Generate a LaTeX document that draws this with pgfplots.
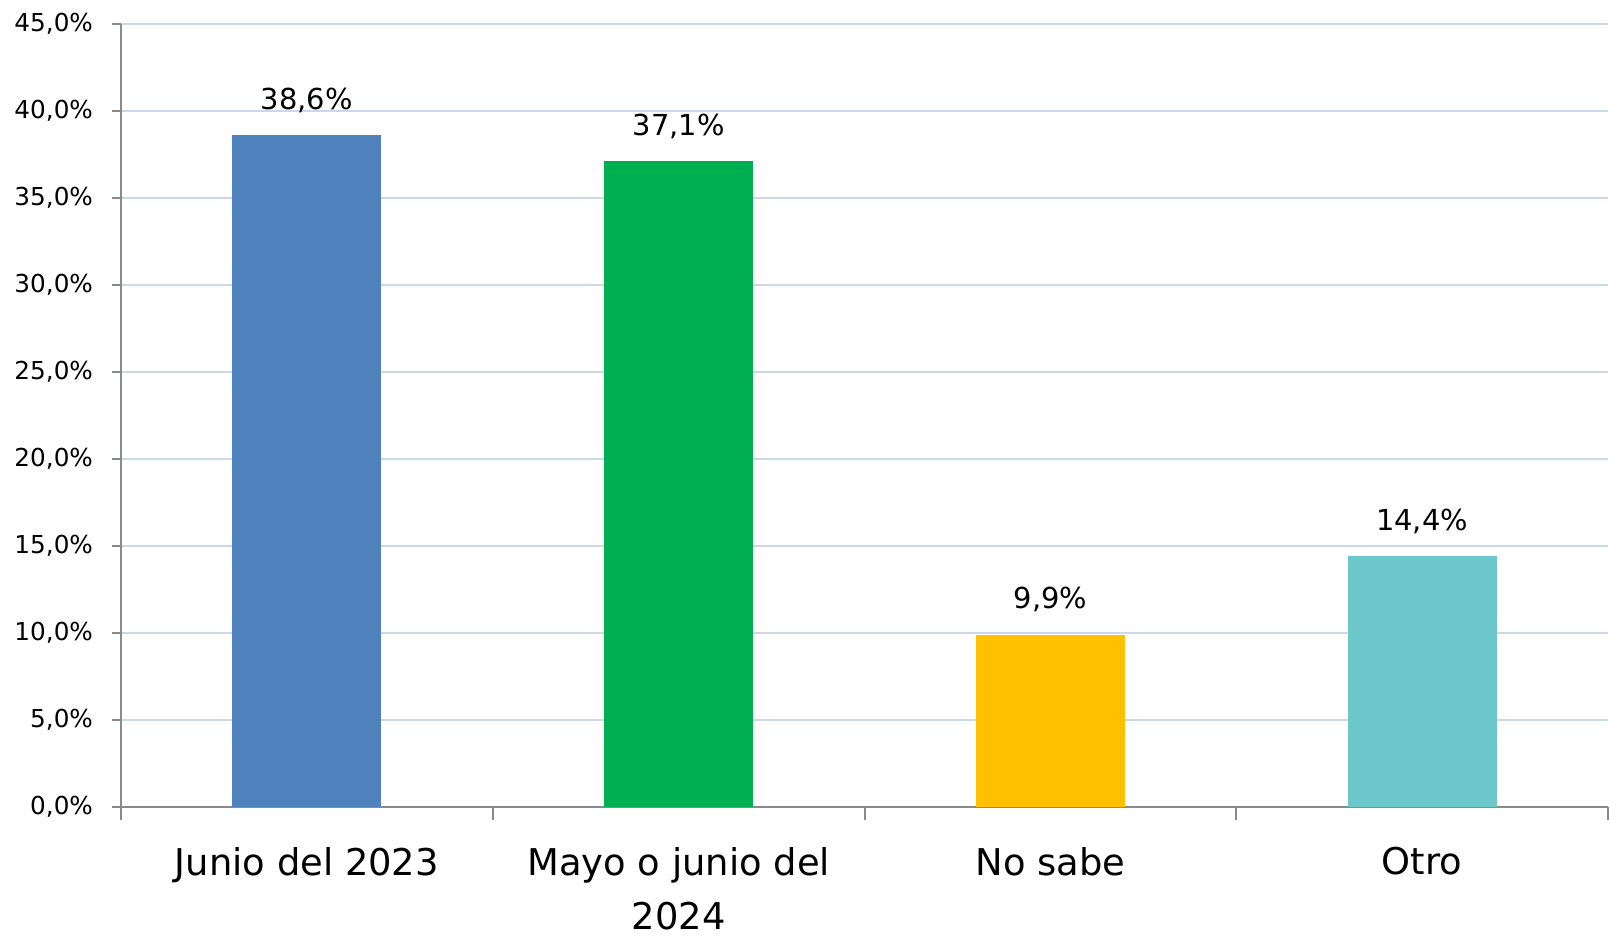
\documentclass[border=0pt]{standalone}
\usepackage{pgfplots}
\pgfplotsset{compat=1.18}
\usepackage{fontspec}
\setmainfont{DejaVu Sans}
\definecolor{c1}{HTML}{4F81BD}
\definecolor{c2}{HTML}{00B050}
\definecolor{c3}{HTML}{FFC000}
\definecolor{c4}{HTML}{6CC7CB}
\definecolor{gridc}{HTML}{CAD8EA}
\definecolor{axc}{HTML}{8A8A8A}
\begin{document}
\begin{tikzpicture}
\begin{axis}[
  scale only axis,
  width=743.5bp, height=391.5bp,
  at={(60.5bp,65.5bp)}, anchor=south west,
  xmin=-0.5, xmax=3.5, ymin=0, ymax=45,
  ybar, bar width=74.5bp, bar shift=0pt,
  axis x line*=bottom, axis y line*=left,
  axis line style={axc, line width=1bp},
  every outer x axis line/.append style={-},
  every outer y axis line/.append style={-},
  /pgf/number format/assume math mode=true,
  ytick={0,5,...,45},
  yticklabel={\pgfmathprintnumber[fixed,fixed zerofill,precision=1,use comma]{\tick}\%},
  yticklabel style={font=\fontsize{12.4}{15}\selectfont, xshift=-6bp},
  ymajorgrids, major grid style={gridc, line width=1bp},
  major y tick style={axc, line width=1bp},
  tick align=outside,
  major tick length=4.5bp,
  xtick={0,1,2,3},
  xticklabels={Junio del 2023,{Mayo o junio del\\2024},No sabe,Otro},
  xticklabel style={font=\fontsize{18.5}{27}\selectfont, align=center, inner sep=0pt, yshift=-15.5bp},
  major x tick style={draw=none},
  minor xtick={-0.5,0.5,1.5,2.5,3.5},
  minor x tick style={axc, line width=1bp},
  minor tick length=6.5bp,
  xmajorgrids=false, xminorgrids=false,
  nodes near coords={\pgfmathprintnumber[fixed,fixed zerofill,precision=1,use comma]{\pgfplotspointmeta}\%},
  every node near coord/.append style={font=\fontsize{14.5}{17}\selectfont, anchor=base, inner sep=0pt, yshift=13bp, black},
  clip=false,
]
\addplot[fill=c1, draw=none] coordinates {(0,38.6)};
\addplot[fill=c2, draw=none] coordinates {(1,37.1)};
\addplot[fill=c3, draw=none] coordinates {(2,9.9)};
\addplot[fill=c4, draw=none] coordinates {(3,14.4)};
\end{axis}
\pgfresetboundingbox
\path (0,0) rectangle (805bp,469bp);
\end{tikzpicture}
\end{document}
